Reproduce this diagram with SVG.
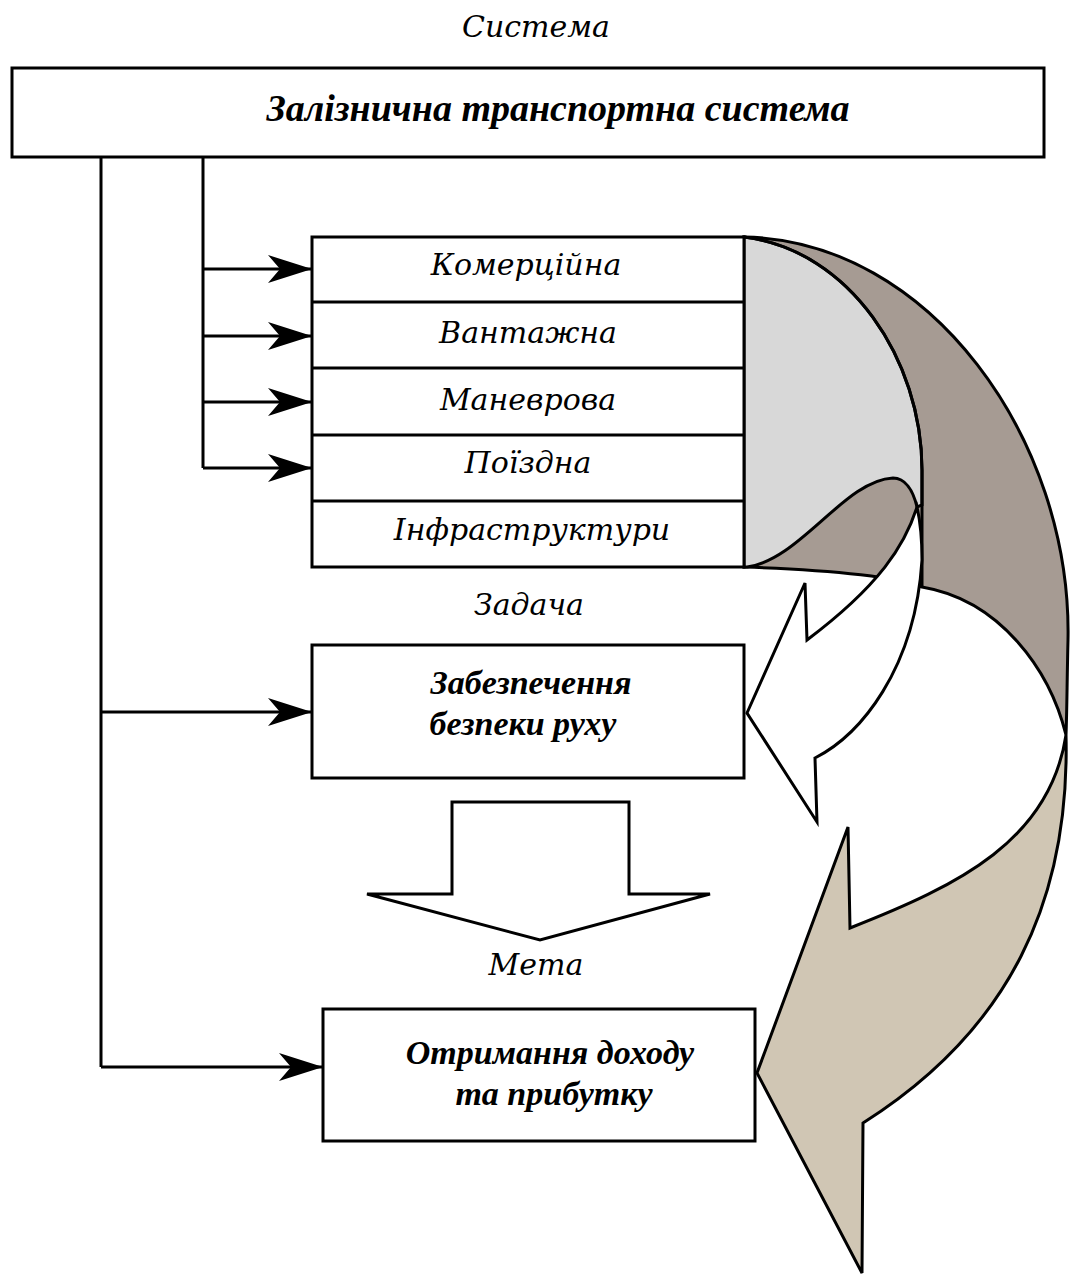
<svg xmlns="http://www.w3.org/2000/svg" width="1072" height="1283" viewBox="0 0 1072 1283">
<style>
.box{fill:#fff;stroke:#000;stroke-width:3}
.ln{fill:none;stroke:#000;stroke-width:3}
.sh{stroke:#000;stroke-width:3;stroke-linejoin:miter}
.t{font-family:"DejaVu Serif","Liberation Serif",serif;font-style:italic;fill:#000;text-anchor:middle;font-size:30px}
.b{font-family:"Liberation Serif","Times New Roman",serif;font-weight:bold;font-size:34px}
</style>
<defs>
<marker id="ah" viewBox="0 0 44 30" refX="44" refY="15" markerWidth="44" markerHeight="30" markerUnits="userSpaceOnUse" orient="auto">
<path d="M0,1 L44,15 L0,29 L12,15 Z" fill="#000"/>
</marker>
</defs>
<rect width="1072" height="1283" fill="#fff"/>

<text class="t" x="536" y="37">Система</text>

<g id="curved-arrows">
<path class="sh" fill="#a69b93" d="M744,237 C930,240 1072,440 1068,640 C1067,680 1067,710 1066,735 C1050,670 1000,600 922,587 C900,578 840,570 744,567 Z"/>
<path class="sh" fill="#d8d8d8" d="M744,237 C850,250 922,360 922,470 L922,505 L917,507 C913,490 905,478 893,478 C845,480 800,560 747,567 L744,567 Z"/>
<path class="ln" d="M744,237 C850,250 922,360 922,470 L922,587"/>
<path class="sh" fill="#fff" d="M815,758 C860,735 915,670 922,560 C922,535 920,520 917,507 C905,545 880,585 807,640 L805,583 L747,713 L817,822 Z"/>
<path class="sh" fill="#d0c6b4" d="M1066,735 C1070,900 1010,1030 863,1123 L862,1273 L757,1073 L848,827 L850,928 C960,885 1050,840 1066,735 Z"/>
</g>

<g id="connectors">
<path class="ln" d="M101,157 V1067"/>
<path class="ln" d="M203,157 V468"/>
<path class="ln" d="M203,269 H312" marker-end="url(#ah)"/>
<path class="ln" d="M203,336 H312" marker-end="url(#ah)"/>
<path class="ln" d="M203,402 H312" marker-end="url(#ah)"/>
<path class="ln" d="M203,468 H312" marker-end="url(#ah)"/>
<path class="ln" d="M101,712 H312" marker-end="url(#ah)"/>
<path class="ln" d="M101,1067 H323" marker-end="url(#ah)"/>
<path class="sh" fill="#fff" d="M452,802 L629,802 L629,894 L710,894 L540,940 L367,894 L452,894 Z"/>
</g>

<g id="node-system">
<rect class="box" x="12" y="68" width="1032" height="89" stroke-width="3.5"/>
<text class="t b" x="558" y="121" style="font-size:38px">Залізнична транспортна система</text>
</g>

<g id="node-tasks">
<rect class="box" x="312" y="237" width="432" height="330"/>
<path class="ln" d="M312,302 H744 M312,368 H744 M312,435 H744 M312,501 H744"/>
<text class="t" x="526" y="275">Комерційна</text>
<text class="t" x="528" y="343">Вантажна</text>
<text class="t" x="528" y="410">Маневрова</text>
<text class="t" x="528" y="473">Поїздна</text>
<text class="t" x="532" y="540">Інфраструктури</text>
</g>

<text class="t" x="529" y="615">Задача</text>

<g id="node-safety">
<rect class="box" x="312" y="645" width="432" height="133"/>
<text class="t b" x="531" y="694">Забезпечення</text>
<text class="t b" x="523" y="735">безпеки руху</text>
</g>

<text class="t" x="536" y="975">Мета</text>

<g id="node-goal">
<rect class="box" x="323" y="1009" width="432" height="132"/>
<text class="t b" x="550" y="1064">Отримання доходу</text>
<text class="t b" x="554" y="1105">та прибутку</text>
</g>
</svg>
